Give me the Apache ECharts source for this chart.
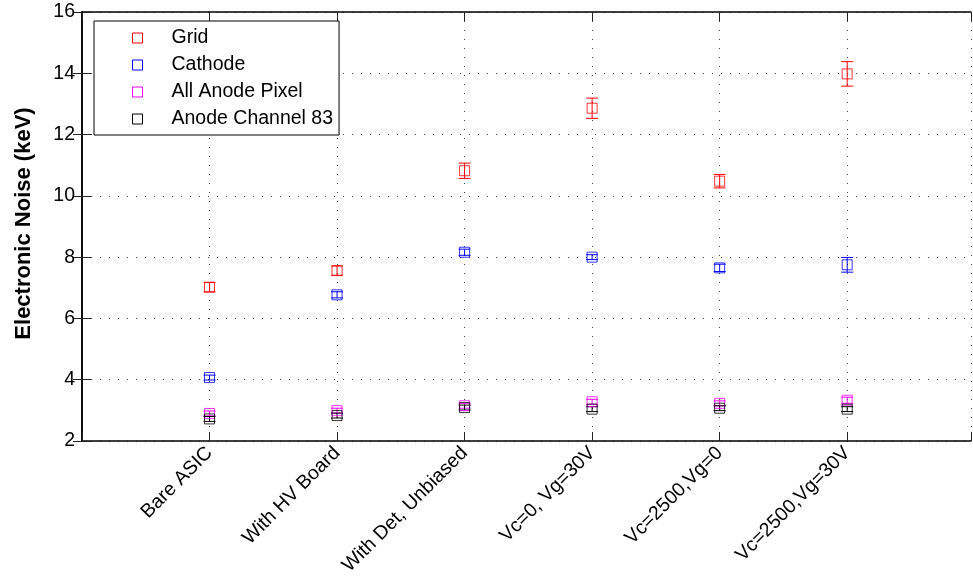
<!DOCTYPE html>
<html>
<head>
<meta charset="utf-8">
<script src="https://cdn.jsdelivr.net/npm/echarts@6/dist/echarts.min.js"></script>
<style>
  html, body { margin: 0; padding: 0; background: #fff; }
  #chart { width: 973px; height: 579px; }
</style>
</head>
<body>
<div id="chart"></div>
<script>
// Measurement conditions along the x axis
const categories = ['Bare ASIC', 'With HV Board', 'With Det, Unbiased', 'Vc=0, Vg=30V', 'Vc=2500,Vg=0', 'Vc=2500,Vg=30V'];

// Electronic noise (keV) and its uncertainty for each readout
const gridNoise = [7.02, 7.56, 10.82, 12.86, 10.48, 13.98];
const gridErr = [0.15, 0.15, 0.25, 0.33, 0.22, 0.40];
const cathodeNoise = [4.07, 6.77, 8.16, 8.00, 7.65, 7.75];
const cathodeErr = [0.08, 0.10, 0.10, 0.08, 0.12, 0.24];
const anodeAllNoise = [2.90, 2.99, 3.15, 3.28, 3.23, 3.33];
const anodeAllErr = [0.08, 0.08, 0.08, 0.08, 0.08, 0.10];
const anode83Noise = [2.72, 2.83, 3.09, 3.04, 3.07, 3.04];
const anode83Err = [0.08, 0.08, 0.08, 0.08, 0.08, 0.08];

// Y axis ticks
const yTicks = [2, 4, 6, 8, 10, 12, 14, 16];

const FONT = '"Liberation Sans", Arial, Helvetica, sans-serif';
const FS = 19.5;

const seriesDefs = [
  { name: 'Grid', color: '#ff0000', values: gridNoise, errs: gridErr },
  { name: 'Cathode', color: '#0000ff', values: cathodeNoise, errs: cathodeErr },
  { name: 'All Anode Pixel', color: '#ff00ff', values: anodeAllNoise, errs: anodeAllErr },
  { name: 'Anode Channel 83', color: '#000000', values: anode83Noise, errs: anode83Err }
];

function errorBarRenderer(color) {
  return function (params, api) {
    const x = api.value(0);
    const lo = api.coord([x, api.value(1)]);
    const hi = api.coord([x, api.value(2)]);
    const half = 6;
    const style = { stroke: color, lineWidth: 1 };
    return {
      type: 'group',
      children: [
        { type: 'line', shape: { x1: hi[0], y1: hi[1], x2: lo[0], y2: lo[1] }, style: style },
        { type: 'line', shape: { x1: hi[0] - half, y1: hi[1], x2: hi[0] + half, y2: hi[1] }, style: style },
        { type: 'line', shape: { x1: lo[0] - half, y1: lo[1], x2: lo[0] + half, y2: lo[1] }, style: style }
      ]
    };
  };
}

const series = [];
seriesDefs.forEach(function (d) {
  series.push({
    name: d.name,
    type: 'custom',
    xAxisIndex: 0,
    yAxisIndex: 0,
    renderItem: errorBarRenderer(d.color),
    encode: { x: 0, y: [1, 2] },
    data: d.values.map(function (v, i) { return [i + 1, v - d.errs[i], v + d.errs[i]]; }),
    silent: true,
    z: 3
  });
  series.push({
    name: d.name,
    type: 'scatter',
    xAxisIndex: 0,
    yAxisIndex: 0,
    symbol: 'rect',
    symbolSize: 10,
    itemStyle: { color: 'rgba(0,0,0,0)', borderColor: d.color, borderWidth: 1 },
    data: d.values.map(function (v, i) { return [i + 1, v]; }),
    z: 4
  });
});

const dotted = { color: '#444', width: 1, type: [1, 8] };
const axisLineStyle = { color: '#000', width: 1.5 };
const tickStyle = { color: '#222', width: 1 };

const option = {
  animation: false,
  backgroundColor: '#fff',
  grid: { left: 82, right: 2, top: 12, bottom: 138, containLabel: false },
  legend: {
    orient: 'vertical',
    left: 94,
    top: 21,
    padding: [7, 6, 6, 38],
    itemGap: 7,
    itemWidth: 10,
    itemHeight: 10,
    backgroundColor: '#fff',
    borderColor: '#000',
    borderWidth: 1,
    borderRadius: 0,
    textStyle: { fontFamily: FONT, fontSize: FS, color: '#000', padding: [0, 0, 0, 24] },
    data: seriesDefs.map(function (d) {
      return {
        name: d.name,
        icon: 'rect',
        itemStyle: { color: 'rgba(0,0,0,0)', borderColor: d.color, borderWidth: 1 }
      };
    })
  },
  xAxis: [
    {
      type: 'value', position: 'bottom', min: 0, max: 6.97, interval: 1,
      axisLine: { show: true, lineStyle: axisLineStyle },
      axisTick: { show: true, inside: true, length: 9, lineStyle: tickStyle },
      axisLabel: {
        rotate: 45, margin: 9, fontFamily: FONT, fontSize: FS, color: '#000',
        formatter: function (v) {
          const i = Math.round(v);
          return (Math.abs(v - i) < 1e-6 && i >= 1 && i <= categories.length) ? categories[i - 1] : '';
        }
      },
      splitLine: { show: true, lineStyle: dotted }
    },
    {
      type: 'value', position: 'top', min: 0, max: 6.97, interval: 1,
      axisLine: { show: true, lineStyle: axisLineStyle },
      axisTick: { show: true, inside: true, length: 9, lineStyle: tickStyle },
      axisLabel: { show: false },
      splitLine: { show: false }
    }
  ],
  yAxis: [
    {
      type: 'value', position: 'left', min: yTicks[0], max: yTicks[yTicks.length - 1], interval: 2,
      name: 'Electronic Noise (keV)',
      nameLocation: 'middle',
      nameGap: 47,
      nameTextStyle: { fontFamily: FONT, fontSize: 22, fontWeight: 'bold', color: '#000', padding: [0, 0, 0, 6] },
      axisLine: { show: true, lineStyle: axisLineStyle },
      axisTick: { show: true, inside: true, length: 9, lineStyle: tickStyle },
      axisLabel: { margin: 7, fontFamily: FONT, fontSize: FS, color: '#000', padding: [3, 0, 0, 0] },
      splitLine: { show: true, lineStyle: dotted }
    },
    {
      type: 'value', position: 'right', min: yTicks[0], max: yTicks[yTicks.length - 1], interval: 2,
      axisLine: { show: true, lineStyle: axisLineStyle },
      axisTick: { show: true, inside: true, length: 9, lineStyle: tickStyle },
      axisLabel: { show: false },
      splitLine: { show: false }
    }
  ],
  series: series
};

const chart = echarts.init(document.getElementById('chart'), null, { renderer: 'canvas' });
chart.setOption(option);
</script>
</body>
</html>
